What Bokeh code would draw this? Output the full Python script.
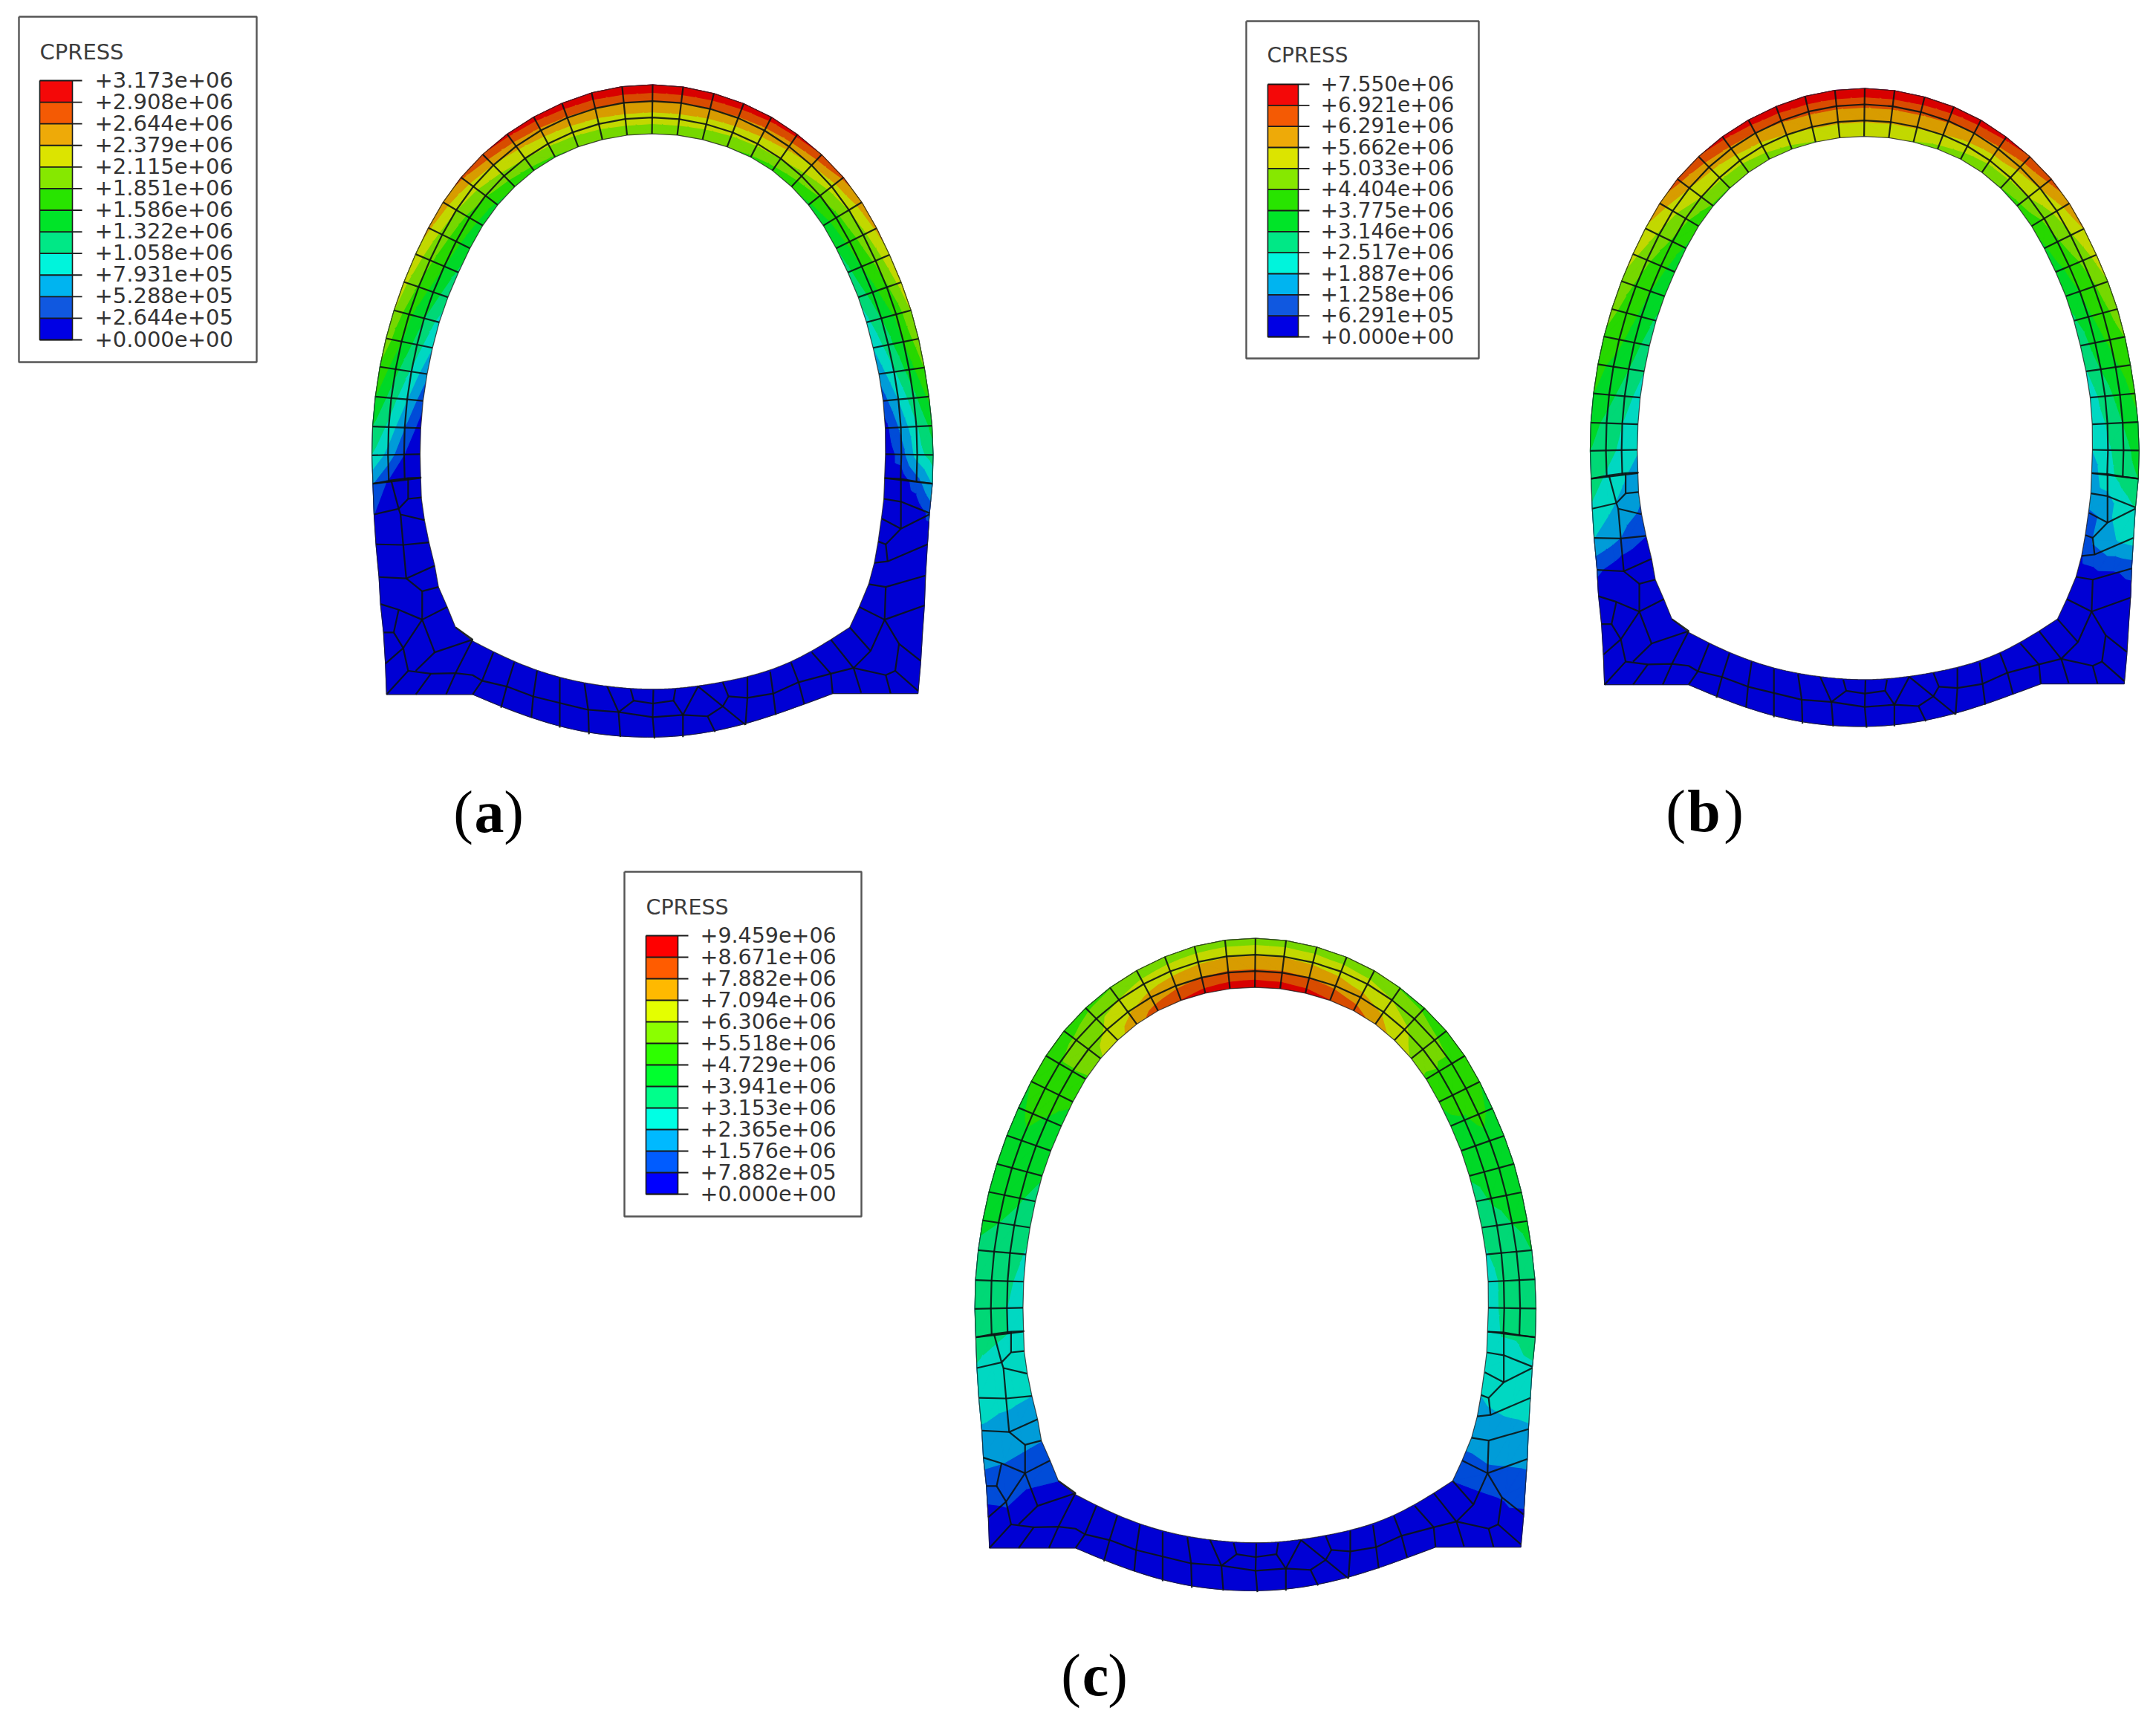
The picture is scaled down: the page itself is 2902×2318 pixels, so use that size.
from bokeh.plotting import figure
from bokeh.models import Range1d, ColumnDataSource
from bokeh.core.properties import value
from bokeh.embed import file_html
from bokeh.resources import INLINE

# ---------- legends ----------
LEG_A = ["+3.173e+06","+2.908e+06","+2.644e+06","+2.379e+06","+2.115e+06","+1.851e+06","+1.586e+06",
         "+1.322e+06","+1.058e+06","+7.931e+05","+5.288e+05","+2.644e+05","+0.000e+00"]
LEG_B = ["+7.550e+06","+6.921e+06","+6.291e+06","+5.662e+06","+5.033e+06","+4.404e+06","+3.775e+06",
         "+3.146e+06","+2.517e+06","+1.887e+06","+1.258e+06","+6.291e+05","+0.000e+00"]
LEG_C = ["+9.459e+06","+8.671e+06","+7.882e+06","+7.094e+06","+6.306e+06","+5.518e+06","+4.729e+06",
         "+3.941e+06","+3.153e+06","+2.365e+06","+1.576e+06","+7.882e+05","+0.000e+00"]
# top to bottom
LEG_COL_AB = ["#f40808","#f45a04","#eeaa08","#dce400","#86e800","#28e400","#00e428",
              "#00e886","#00f4dc","#00b4f0","#1058e0","#0000e4"]
LEG_COL_C = ["#ff0000","#ff5c00","#ffb900","#e4ff00","#8bff00","#2eff00","#00ff2e",
             "#00ff8b","#00ffe4","#00b9ff","#005cff","#0000ff"]
# mesh bands, bottom level (0) to top level (11)
BANDS = ["#0000d4","#004cd8","#009cd8","#00d8c2","#00d876","#00d827","#27d800","#76d800",
         "#c2d800","#d89c00","#d84c00","#d80000"]

# ---------- arch geometry ----------
ARCH_OUT = [(42,1465),(38,1365),(40,1265),(47,1160),(60,1050),(75,955),(97,855),(122,755),(155,655),(187,565),
            (225,475),(272,385),(330,305),(395,232),(465,172),(540,125),(618,85),(700,65),(780,58),
            (860,65),(942,90),(1022,125),(1095,172),(1162,235),(1228,305),(1285,385),(1335,475),(1372,565),
            (1405,660),(1437,755),(1463,855),(1483,955),(1497,1055),(1510,1160),(1518,1260),(1522,1365),(1518,1465)]
ARCH_IN = [(168,1445),(165,1365),(168,1270),(172,1172),(185,1080),(198,985),(216,898),(238,808),(268,722),(297,635),
           (330,555),(370,482),(415,418),(465,362),(522,312),(582,278),(648,252),(712,236),(778,232),
           (845,236),(912,252),(977,278),(1040,312),(1098,362),(1148,418),(1192,482),(1232,555),(1265,635),
           (1295,722),(1325,808),(1345,898),(1362,985),(1378,1080),(1390,1172),(1395,1270),(1395,1365),(1392,1445)]

# ---------- lower part, outline ----------
WALL_L_OUT = [(78,978),(75,870),(70,760),(62,660),(58,565),(50,450),(45,345)]
WALL_R_OUT = [(1510,345),(1505,450),(1500,560),(1497,665),(1492,760),(1487,870),(1480,975)]
BOTTOM_OUT = [(1255,975),(1180,1012),(1105,1050),(1025,1085),(945,1110),(860,1128),(785,1133),(695,1128),
              (612,1118),(535,1095),(460,1060),(380,1025),(305,978)]
WALL_L_IN = [(170,290),(178,365),(190,443),(205,525),(215,600),(238,670),(260,742)]
BOTTOM_IN = [(305,790),(360,830),(415,865),(475,895),(535,922),(600,940),(660,950),(722,960),(782,962),(840,960),
             (900,950),(965,935),(1030,918),(1090,898),(1145,865),(1200,830),(1250,785)]
WALL_R_IN = [(1300,742),(1325,670),(1350,590),(1365,515),(1375,440),(1385,345),(1390,290)]

# rows of the contour field along the lower walls (outer to inner)
ROWS_L = [[(75,870),(130,895),(205,830),(305,790)],
          [(70,760),(120,815),(175,770),(260,742)],
          [(62,660),(115,680),(172,700),(238,670)],
          [(58,565),(110,555),(158,540),(205,525)],
          [(50,450),(97,451),(145,448),(190,443)],
          [(45,345),(88,337),(130,335),(178,365)]]
ROWS_R = [[(1510,345),(1472,335),(1435,320),(1385,345)],
          [(1505,450),(1460,460),(1400,460),(1375,440)],
          [(1500,560),(1450,580),(1395,600),(1350,590)],
          [(1497,665),(1445,690),(1392,715),(1325,670)],
          [(1492,760),(1440,790),(1375,780),(1300,742)],
          [(1487,870),(1425,880),(1340,840),(1250,785)]]

# ---------- lower part, element edges ----------
MESH = [
 [(42,237),(90,225),(135,217),(170,215)],
 [(90,225),(110,325),(135,290),(170,285)],[(135,217),(135,290)],[(45,345),(110,325),(115,345),(178,365)],
 [(115,345),(122,452),(130,570),(172,615),(215,600)],[(50,450),(122,452),(190,443)],
 [(58,565),(130,570),(205,525)],[(172,615),(172,715),(238,670)],[(62,660),(110,680),(172,715)],
 [(110,680),(97,760),(70,760)],[(97,760),(122,815),(75,870)],[(172,715),(122,815),(135,895),(78,978)],
 [(172,715),(205,830),(305,785)],[(205,830),(155,895)],[(260,742),(305,785),(260,903),(235,978)],
 [(135,895),(195,905),(260,903),(305,910),(330,930),(395,950),(465,985),(535,1008),(610,1032),(690,1040),
  (780,1058),(860,1050),(925,1055),(945,1110)],
 [(195,905),(155,978)],[(360,830),(330,930),(305,978)],[(415,865),(395,950),(380,1025)],
 [(475,895),(465,985),(460,1060)],[(535,922),(535,1008),(535,1095)],[(600,940),(610,1032),(612,1118)],
 [(660,950),(690,1040),(695,1128)],[(722,960),(730,1000),(690,1040)],[(730,1000),(780,1010),(835,1000),(840,960)],
 [(782,962),(780,1058),(785,1133)],[(835,1000),(860,1050),(860,1128)],[(900,950),(860,1050)],
 [(900,950),(965,1020),(925,1055)],[(965,935),(980,985),(965,1020),(1025,1085)],
 [(980,985),(1030,990),(1098,975),(1165,935),(1250,905),(1310,885),(1395,910),(1420,895),(1480,965)],
 [(1030,918),(1030,990),(1025,1085)],[(1090,898),(1098,975),(1105,1050)],[(1145,865),(1165,935),(1180,1012)],
 [(1200,830),(1250,905),(1255,975)],[(1250,785),(1310,885),(1330,972)],[(1300,742),(1355,825),(1310,885)],
 [(1395,910),(1408,975)],[(1420,895),(1430,800),(1487,860)],[(1430,800),(1392,715),(1497,665)],
 [(1392,715),(1355,825)],[(1392,715),(1325,670)],[(1392,715),(1395,600),(1350,590)],[(1395,600),(1500,560)],
 [(1365,515),(1400,510),(1505,450)],[(1400,510),(1395,450),(1435,395),(1510,345)],[(1395,450),(1375,440)],
 [(1435,395),(1385,360)],[(1435,395),(1435,300),(1390,290)],[(1435,300),(1510,340)],[(1435,220),(1435,300)],
 [(1392,217),(1435,220),(1480,230),(1518,237)],
]

# ---------- contour levels (0 to 12 legend steps) at field nodes: L6..L1, A0..A36, R1..R6 ----------
A_OUT = [0,0,0,0,0,1.0, 2.0,4.0,5.0,6.0,6.8,7.5,8.0,8.3,8.7,9.2,9.6,10.2,10.9,11.3,11.5,11.7,11.8,11.9,11.9,
         11.9,11.8,11.7,11.5,11.3,10.9,10.2,9.6,9.2,8.8,8.4,8.0,7.6,7.0,6.2,5.3,4.6,3.0, 1.2,.3,0,0,0,0]
A_M1  = [0,0,0,0,0,.2, .8,2.6,3.7,4.5,5.3,6.0,6.2,6.8,7.2,7.6,8,8.4,8.9,9.3,9.6,9.8,9.9,10,10,
         10,9.9,9.8,9.6,9.3,8.9,8.4,8,7.6,7.2,6.8,6.2,6,5.4,4.6,3.8,3.4,1.5, .2,0,0,0,0,0]
A_M2  = [0,0,0,0,0,0, .2,1.0,2.0,3.0,3.8,4.5,5.0,5.5,6.0,6.3,6.6,7.1,7.6,8,8.2,8.3,8.4,8.5,8.5,
         8.5,8.4,8.3,8.2,8,7.6,7.1,6.6,6.3,6,5.5,5,4.5,3.8,3,2.2,1.5,.3, 0,0,0,0,0,0]
A_IN  = [0,0,0,0,0,0, .1,.2,.5,1.3,2.2,3.0,3.6,4.4,4.8,5.2,5.5,5.7,6.1,6.5,6.8,7,7.1,7.2,7.2,
         7.2,7.1,7,6.8,6.5,6.1,5.7,5.3,5,4.6,4.2,3.6,3,2.3,1.5,.6,.2,.1, 0,0,0,0,0,0]

B_OUT = [0,0,.4,1.2,3.0,3.8, 4.6,5.0,5.4,6,6.2,6.8,7.3,7.7,8.3,8.8,9.6,10.4,10.9,11.3,11.6,11.7,11.8,11.9,11.9,
         11.9,11.8,11.7,11.6,11.3,10.9,10.4,9.6,9,8.4,7.9,7.5,7,6.5,6.2,5.8,5.4,5.0, 4.0,3.5,1.4,.4,0,0]
B_M1  = [0,0,0,.6,2.4,3.2, 3.8,4.5,4.7,5.3,5.8,6.2,6.5,6.8,7.2,7.8,8.3,9,9.3,9.7,9.9,10.1,10.2,10.2,10.2,
         10.2,10.2,10.1,9.9,9.7,9.3,9,8.3,7.8,7.2,6.8,6.5,6.2,5.8,5.4,5,4.6,4.4, 3.4,3,.8,0,0,0]
B_M2  = [0,0,0,.3,1.6,2.6, 3.2,3.7,4,4.5,5,5.5,5.8,6,6.3,6.8,7.2,8,8.2,8.3,8.6,8.9,9.1,9.1,9.1,
         9.1,9.1,8.9,8.6,8.3,8.2,8,7.2,6.8,6.3,6,5.8,5.5,5,4.5,4.1,3.8,3.6, 2.6,2.2,.4,0,0,0]
B_IN  = [0,0,0,.2,1,1.8, 2.5,3.1,3.3,3.5,4,4.3,4.8,5.3,5.5,5.8,6.2,6.8,6.9,7,7.3,7.6,7.9,8.1,8.1,
         8.1,7.9,7.6,7.3,7,6.9,6.6,6.1,5.8,5.5,5.3,4.8,4.2,3.9,3.4,3.2,3.0,2.5, 2,1.2,.3,0,0,0]

C_OUT = [.7,1.4,2.4,2.9,3.4,3.8, 4.9,4.7,4.6,4.9,5.1,5.2,5.4,5.5,5.8,6,6.3,6.3,6.7,6.9,7.2,7.3,7.3,7.3,7.3,
         7.3,7.3,7.3,7.2,6.9,6.7,6.3,6.3,6,5.8,5.5,5.4,5.3,5.2,5,4.8,4.7,4.9, 3.7,3.4,2.9,2.3,1.5,.8]
C_M1  = [.7,1.1,2,2.7,3.3,3.5, 4.3,4.2,4.3,4.6,5,5.3,5.5,5.8,6.2,6.4,6.9,7.2,7.7,8,8.4,8.6,8.8,8.9,8.9,
         8.9,8.8,8.6,8.4,8,7.7,7.2,6.9,6.4,6.2,5.8,5.5,5.3,5,4.7,4.4,4.3,4.2, 3.5,3.3,2.7,2,1.1,.7]
C_M2  = [.6,1,1.7,2.5,3.2,3.2, 4,4,4.2,4.4,4.7,5.1,5.4,5.6,5.9,6.5,6.9,7.6,8.1,8.8,9.3,9.7,10,10.1,10.1,
         10.1,10,9.7,9.3,8.8,8.1,7.6,6.9,6.5,5.9,5.6,5.4,5.1,4.7,4.4,4.2,4.2,4.1, 3.2,3.1,2.5,1.8,1,.6]
C_IN  = [.6,1,1.6,2.4,3,3.2, 3.6,3.6,3.6,3.9,4.2,4.6,5.1,5.4,5.7,6.1,6.8,7.9,8.6,9.6,10.5,11,11.4,11.6,11.7,
         11.6,11.4,11,10.5,9.6,8.6,7.9,6.8,6.1,5.7,5.4,5.1,4.6,4.2,3.9,3.6,3.6,3.5, 3.1,3,2.4,1.7,1,.6]

# ---------- panel placement ----------
PANELS = [
    dict(cx=878.0,  top=112.0,  s=1.0,   f=(A_OUT,A_M1,A_M2,A_IN)),
    dict(cx=2509.5, top=117.0,  s=0.978, f=(B_OUT,B_M1,B_M2,B_IN)),
    dict(cx=1689.5, top=1261.0, s=1.0,   f=(C_OUT,C_M1,C_M2,C_IN)),
]
LEGENDS = [
    dict(box=(25,22,345,487),    bar=(53,97), tick=110,  txt=127,  top=108, bot=457, title=(53,69),
         labels=LEG_A, cols=LEG_COL_AB, size=29),
    dict(box=(1677,28,1990,482), bar=(1706,1747), tick=1762, txt=1777, top=113, bot=453, title=(1705,74),
         labels=LEG_B, cols=LEG_COL_AB, size=28),
    dict(box=(840,1173,1159,1637), bar=(869,912), tick=926, txt=942, top=1259, bot=1607, title=(869,1221),
         labels=LEG_C, cols=LEG_COL_C, size=28.5),
]
CAPTIONS = [("(", "a", ")", 623, 658, 691, 1092), ("(", "b", ")", 2255, 2293, 2333, 1091), ("(", "c", ")", 1441, 1474, 1504, 2254)]

def z2(pts):
    return [(480 + x / 1.96, 90 + y / 2.613) for x, y in pts]
def z3(pts):
    return [(480 + x / 1.96, 560 + y / 2.613) for x, y in pts]

def even(pts, times=1):
    """1-2-1 pass that removes reading noise from a run of nodes; the ends stay."""
    for _ in range(times):
        pts = [pts[0]] + [((pts[i - 1][0] + 2 * pts[i][0] + pts[i + 1][0]) / 4,
                           (pts[i - 1][1] + 2 * pts[i][1] + pts[i + 1][1]) / 4) for i in range(1, len(pts) - 1)] + [pts[-1]]
    return pts

def smooth(pts, n=6):
    """Catmull-Rom through the read nodes."""
    out = []
    m = len(pts)
    for i in range(m - 1):
        p0, p1, p2, p3 = pts[max(i - 1, 0)], pts[i], pts[i + 1], pts[min(i + 2, m - 1)]
        for k in range(n):
            t = k / n
            out.append(tuple(0.5 * (2 * p1[d] + (p2[d] - p0[d]) * t + (2 * p0[d] - 5 * p1[d] + 4 * p2[d] - p3[d]) * t * t
                                    + (3 * p1[d] - p0[d] - 3 * p2[d] + p3[d]) * t ** 3) for d in (0, 1)))
    out.append(pts[-1])
    return out

def clip(poly, level, keep_above):
    out = []
    n = len(poly)
    for i in range(n):
        a, b = poly[i], poly[(i + 1) % n]
        ina = a[2] >= level if keep_above else a[2] <= level
        inb = b[2] >= level if keep_above else b[2] <= level
        if ina:
            out.append(a)
        if ina != inb:
            t = (level - a[2]) / (b[2] - a[2])
            out.append((a[0] + t * (b[0] - a[0]), a[1] + t * (b[1] - a[1]), level))
    return out

arch_o, arch_i = z2(even(ARCH_OUT)), z2(even(ARCH_IN))
rows = [z3(r) for r in ROWS_L]
for o, i in zip(arch_o, arch_i):
    rows.append([o, (o[0] + (i[0] - o[0]) / 3, o[1] + (i[1] - o[1]) / 3),
                 (o[0] + 2 * (i[0] - o[0]) / 3, o[1] + 2 * (i[1] - o[1]) / 3), i])
rows += [z3(r) for r in ROWS_R]
for arr in PANELS:
    assert all(len(v) == len(rows) for v in arr["f"])

outer_poly = z3(WALL_L_OUT) + arch_o + z3(WALL_R_OUT) + smooth(z3(even(BOTTOM_OUT, 2)))
inner_poly = z3(WALL_L_IN[::-1]) + arch_i + z3(WALL_R_IN[::-1]) + smooth(z3(even(BOTTOM_IN[::-1], 2)))

# arch element lines
arch_lines = [[rows[k + 6][j] for k in range(len(arch_o))] for j in (1, 2)]
arch_lines += [rows[k + 6] for k in range(len(arch_o))]
low_lines = [z3(m) for m in MESH]

p = figure(width=2902, height=2318, x_range=Range1d(0, 2902), y_range=Range1d(2318, 0),
           output_backend="svg", toolbar_location=None, min_border=0)
p.axis.visible = False
p.grid.visible = False
p.outline_line_color = None
p.background_fill_color = "white"
p.border_fill_color = "white"

for P in PANELS:
    def tr(pts):
        return [P["cx"] + P["s"] * (q[0] - 878.0) for q in pts], [P["top"] + P["s"] * (q[1] - 112.0) for q in pts]
    ox, oy = tr(outer_poly)
    p.patch(ox, oy, fill_color=BANDS[0], line_color=BANDS[0], line_width=1)
    # contour bands, clipped triangle by triangle
    xs, ys, cs = [], [], []
    F = P["f"]
    for k in range(len(rows) - 1):
        for j in range(3):
            a = (*rows[k][j], F[j][k]); b = (*rows[k + 1][j], F[j][k + 1])
            c = (*rows[k + 1][j + 1], F[j + 1][k + 1]); d = (*rows[k][j + 1], F[j + 1][k])
            for tri in ([a, b, c], [a, c, d]):
                lo, hi = min(t[2] for t in tri), max(t[2] for t in tri)
                for band in range(12):
                    if band == 0 and hi <= 1:
                        continue
                    if hi < band or lo > band + 1:
                        continue
                    poly = clip(clip(tri, band, True), band + 1, False)
                    if band == 11:
                        poly = clip(tri, 11, True)
                    if len(poly) >= 3:
                        qx, qy = tr(poly)
                        xs.append(qx); ys.append(qy); cs.append(BANDS[band])
    src = ColumnDataSource(dict(xs=xs, ys=ys, c=cs))
    p.patches("xs", "ys", source=src, fill_color="c", line_color="c", line_width=1.2)
    ix, iy = tr(inner_poly)
    p.patch(ix, iy, fill_color="white", line_color=None)
    # element edges
    mx, my = [], []
    for l in arch_lines + low_lines:
        a, b = tr(l); mx.append(a); my.append(b)
    p.multi_line(mx, my, line_color="#0c1414", line_width=2.2, line_alpha=0.9)
    p.patch(ox, oy, fill_alpha=0, line_color="#222222", line_width=1.2, line_alpha=0.8)
    p.patch(ix, iy, fill_alpha=0, line_color="#222222", line_width=1.2, line_alpha=0.8)

for L in LEGENDS:
    x0, y0, x1, y1 = L["box"]
    p.line([x0, x1, x1, x0, x0], [y0, y0, y1, y1, y0], line_color="#555555", line_width=2.4)
    n = len(L["labels"])
    step = (L["bot"] - L["top"]) / (n - 1)
    ys_t = [L["top"] + i * step for i in range(n)]
    p.quad(left=L["bar"][0], right=L["bar"][1], top=ys_t[:-1], bottom=ys_t[1:], fill_color=L["cols"], line_color=None)
    p.segment(x0=[L["bar"][0]] * n, x1=[L["tick"]] * n, y0=ys_t, y1=ys_t, line_color="#1a1a1a", line_width=1.8)
    p.line([L["bar"][0], L["bar"][0], L["bar"][1], L["bar"][1]], [L["top"], L["bot"], L["bot"], L["top"]],
           line_color="#1a1a1a", line_width=1.6)
    p.text(x=[L["txt"]] * n, y=[v - 1.5 for v in ys_t], text=L["labels"], text_font=value("DejaVu Sans"),
           text_font_size=f'{L["size"]}px', text_baseline="middle", text_align="left", text_color="#333333")
    p.text(x=[L["title"][0]], y=[L["title"][1]], text=["CPRESS"], text_font=value("DejaVu Sans"),
           text_font_size=f'{L["size"]}px', text_baseline="middle", text_align="left", text_color="#3c3c3c")

for op, let, cl, xa, xb, xc, mid in CAPTIONS:
    p.text(x=[xa, xc], y=[mid, mid], text=[op, cl], text_font=value("Liberation Serif"), text_font_size="80px",
           text_baseline="middle", text_align="center", text_color="#000000")
    p.text(x=[xb], y=[mid], text=[let], text_font=value("Liberation Serif"), text_font_style="bold",
           text_font_size="80px", text_baseline="middle", text_align="center", text_color="#000000")

open("out.html", "w").write(file_html(p, INLINE))
